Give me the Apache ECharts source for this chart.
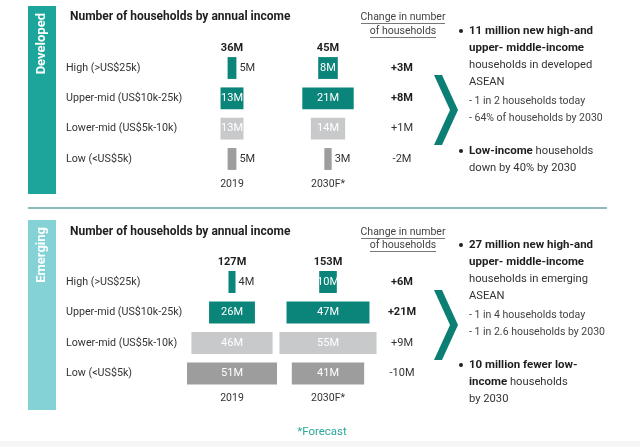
<!DOCTYPE html>
<html>
<head>
<meta charset="utf-8">
<script src="https://cdn.jsdelivr.net/npm/echarts@6.0.0/dist/echarts.min.js"></script>
<style>
html,body{margin:0;padding:0;background:#fff;}
#chart{width:640px;height:447px;}
</style>
</head>
<body>
<div id="chart"></div>
<script>
// ---- data ----
const categories = ['High (>US$25k)', 'Upper-mid (US$10k-25k)', 'Lower-mid (US$5k-10k)', 'Low (<US$5k)'];
const yearLabels = ['2019', '2030F*'];
const dev2019 = [5, 13, 13, 5];
const dev2030 = [8, 21, 14, 3];
const devTotals = [36, 45];
const devChange = [3, 8, 1, -2];
const emg2019 = [4, 26, 46, 51];
const emg2030 = [10, 47, 55, 41];
const emgTotals = [127, 153];
const emgChange = [6, 21, 9, -10];

// ---- styles ----
const FONT = 'Roboto';
const TEAL = '#0b857a';
const rowColors = [TEAL, TEAL, '#c7c9ca', '#9d9d9d'];
const DARK = '#1e1e1e';
const TXT = '#333333';

function barRender(params, api) {
  const v = api.value(0), i = api.value(1);
  const a = api.coord([-v / 2, i]);
  const b = api.coord([v / 2, i]);
  const h = api.size([0, 1])[1] * 0.72;
  const w = b[0] - a[0];
  const inside = w >= 16;
  return {
    type: 'group',
    children: [
      { type: 'rect', shape: { x: a[0], y: a[1] - h / 2, width: w, height: h }, style: { fill: rowColors[i] } },
      { type: 'text', style: {
          text: v + 'M', x: inside ? a[0] + w / 2 : b[0] + 3, y: a[1],
          align: inside ? 'center' : 'left', verticalAlign: 'middle',
          fill: inside ? '#ffffff' : TXT, fontSize: 11, fontFamily: FONT } }
    ]
  };
}
function changeRender(params, api) {
  const v = api.value(0), i = api.value(1);
  const p = api.coord([0, i]);
  return { type: 'text', style: {
    text: (v > 0 ? '+' : '') + v + 'M', x: p[0], y: p[1], align: 'center', verticalAlign: 'middle',
    fill: i < 2 ? DARK : TXT, fontSize: 11, fontWeight: i < 2 ? 'bold' : 'normal', fontFamily: FONT } };
}

const panels = [
  { top: 52.85, height: 121.3, v19: dev2019, v30: dev2030, ch: devChange, R19: 34, R30: 24.5 },
  { top: 266.75, height: 122, v19: emg2019, v30: emg2030, ch: emgChange, R19: 34, R30: 34 }
];
const grids = [], xAxes = [], yAxes = [], series = [];
panels.forEach((p, k) => {
  const cols = [
    { left: 172, width: 120, R: p.R19, data: p.v19, render: barRender, label: true },
    { left: 268, width: 120, R: p.R30, data: p.v30, render: barRender, label: false },
    { left: 370, width: 64, R: 1, data: p.ch, render: changeRender, label: false }
  ];
  cols.forEach((c) => {
    const gi = grids.length;
    grids.push({ left: c.left, width: c.width, top: p.top, height: p.height });
    xAxes.push({ gridIndex: gi, type: 'value', min: -c.R, max: c.R, show: false });
    yAxes.push({
      gridIndex: gi, type: 'category', data: categories, inverse: true, show: c.label,
      axisLine: { show: false }, axisTick: { show: false }, splitLine: { show: false },
      axisLabel: { show: c.label, align: 'left', margin: 106, color: TXT, fontSize: 10.7, fontFamily: FONT }
    });
    series.push({
      type: 'custom', xAxisIndex: gi, yAxisIndex: gi, clip: false,
      renderItem: c.render, encode: { x: 0, y: 1 },
      data: c.data.map((v, i) => [v, i])
    });
  });
});

// ---- graphic text/decoration ----
const g = [];
function txt(x, y, text, opt) {
  g.push(Object.assign({ type: 'text', x: x, y: y, silent: true,
    style: Object.assign({ text: text, fill: TXT, fontSize: 11, fontFamily: FONT, align: 'left', verticalAlign: 'middle' }, opt || {}) }));
}
const rich = {
  b: { fontWeight: 'bold', fill: DARK, fontSize: 11.5, fontFamily: FONT },
  r: { fill: TXT, fontSize: 11.2, fontFamily: FONT },
  s: { fill: '#444', fontSize: 10.5, fontFamily: FONT }
};
function rtxt(x, y, text) {
  g.push({ type: 'text', x: x, y: y, silent: true,
    style: { text: text, rich: rich, align: 'left', verticalAlign: 'middle', fontFamily: FONT } });
}

// background strip bottom
g.push({ type: 'rect', shape: { x: 0, y: 441, width: 640, height: 6 }, style: { fill: '#f6f6f6' } });
// tabs
g.push({ type: 'rect', shape: { x: 28, y: 6, width: 28, height: 188 }, style: { fill: '#1ba59b' } });
g.push({ type: 'rect', shape: { x: 28, y: 220, width: 28, height: 190 }, style: { fill: '#84d2d5' } });
g.push({ type: 'text', x: 42, y: 13, rotation: Math.PI / 2, style: { text: 'Developed', fill: '#fff', fontSize: 13, fontWeight: 'bold', fontFamily: FONT, align: 'right', verticalAlign: 'middle' } });
g.push({ type: 'text', x: 42, y: 227, rotation: Math.PI / 2, style: { text: 'Emerging', fill: '#fff', fontSize: 13, fontWeight: 'bold', fontFamily: FONT, align: 'right', verticalAlign: 'middle' } });
// separator
g.push({ type: 'line', shape: { x1: 28, y1: 208, x2: 607, y2: 208 }, style: { stroke: '#8dbdb6', lineWidth: 2 } });

const panelY = [
  { title: 17, hdr1: 17, hdr2: 31, tot: 48, year: 184, chev: 110, totals: devTotals },
  { title: 232, hdr1: 232, hdr2: 245, tot: 262, year: 398, chev: 325, totals: emgTotals }
];
panelY.forEach((p) => {
  txt(70, p.title, 'Number of households by annual income', { fill: DARK, fontSize: 12, fontWeight: 'bold' });
  txt(403, p.hdr1, 'Change in number', { align: 'center', fontSize: 10.5, fill: '#444' });
  txt(403, p.hdr2, 'of households', { align: 'center', fontSize: 10.5, fill: '#444' });
  g.push({ type: 'line', shape: { x1: 361, y1: p.hdr1 + 6.5, x2: 445, y2: p.hdr1 + 6.5 }, style: { stroke: '#777', lineWidth: 1 } });
  g.push({ type: 'line', shape: { x1: 370, y1: p.hdr2 + 6.5, x2: 436, y2: p.hdr2 + 6.5 }, style: { stroke: '#777', lineWidth: 1 } });
  txt(232, p.tot, p.totals[0] + 'M', { align: 'center', fill: DARK, fontWeight: 'bold' });
  txt(328, p.tot, p.totals[1] + 'M', { align: 'center', fill: DARK, fontWeight: 'bold' });
  txt(232, p.year, yearLabels[0], { align: 'center', fontSize: 10.5 });
  txt(328, p.year, yearLabels[1], { align: 'center', fontSize: 10.5 });
  const c = p.chev;
  g.push({ type: 'polygon', shape: { points: [[434, c - 35], [442, c - 35], [458, c], [442, c + 35], [434, c + 35], [450, c]] }, style: { fill: '#0b7f74' } });
});

// bullets
[31, 151, 245, 365].forEach((y) => g.push({ type: 'circle', shape: { cx: 461, cy: y, r: 2 }, style: { fill: DARK } }));
rtxt(469, 31, '{b|11 million new high-and}');
rtxt(469, 48, '{b|upper- middle-income}');
rtxt(469, 65, '{r|households in developed}');
rtxt(469, 82, '{r|ASEAN}');
rtxt(469, 101, '{s|- 1 in 2 households today}');
rtxt(469, 118, '{s|- 64% of households by 2030}');
rtxt(469, 151, '{b|Low-income}{r| households}');
rtxt(469, 168, '{r|down by 40% by 2030}');

rtxt(469, 245, '{b|27 million new high-and}');
rtxt(469, 262, '{b|upper- middle-income}');
rtxt(469, 279, '{r|households in emerging}');
rtxt(469, 296, '{r|ASEAN}');
rtxt(469, 315, '{s|- 1 in 4 households today}');
rtxt(469, 332, '{s|- 1 in 2.6 households by 2030}');
rtxt(469, 365, '{b|10 million fewer low-}');
rtxt(469, 382, '{b|income}{r| households}');
rtxt(469, 399, '{r|by 2030}');

txt(322, 432, '*Forecast', { align: 'center', fill: '#2aa99c', fontSize: 11.5 });

const chart = echarts.init(document.getElementById('chart'), null, { renderer: 'canvas' });
chart.setOption({
  animation: false,
  backgroundColor: '#ffffff',
  grid: grids, xAxis: xAxes, yAxis: yAxes, series: series,
  graphic: g
});
</script>
</body>
</html>
